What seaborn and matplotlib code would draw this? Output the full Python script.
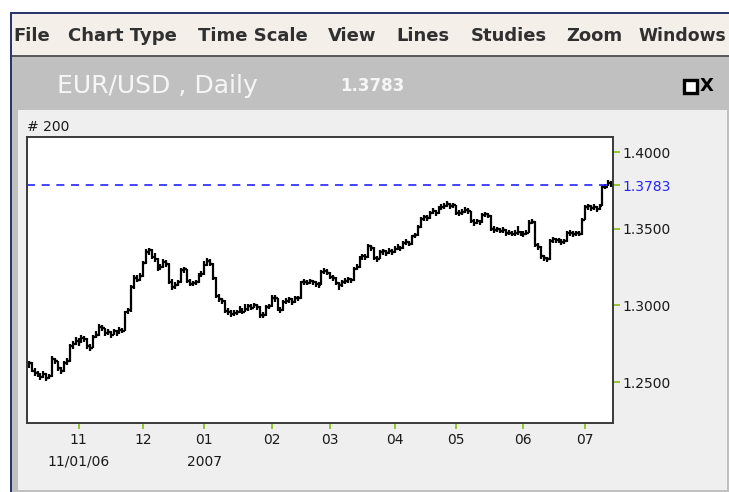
"""EUR/USD daily bar chart, styled like an old trading terminal window."""

import matplotlib

matplotlib.use("Agg")
import matplotlib.pyplot as plt
import numpy as np
import pandas as pd
import seaborn as sns
from matplotlib.patches import Rectangle

W, H = 729, 492

START_DATE = "2006-10-09"
LAST_PRICE = 1.3783
Y_TICKS = [1.25, 1.30, 1.35, 1.40]
MENU_ITEMS = ["File", "Chart Type", "Time Scale", "View", "Lines", "Studies", "Zoom", "Windows"]
MENU_X = [13, 68, 198, 328, 396, 471, 566, 638]
SECOND_ROW = {11: "11/01/06", 1: "2007"}

CLOSE = [
    1.2622, 1.2575, 1.2560, 1.2548, 1.2535, 1.2552, 1.2528, 1.2540, 1.2648, 1.2635,
    1.2590, 1.2572, 1.2625, 1.2640, 1.2735, 1.2748, 1.2770, 1.2760, 1.2790, 1.2782,
    1.2735, 1.2725, 1.2795, 1.2805, 1.2860, 1.2850, 1.2818, 1.2828, 1.2810, 1.2830,
    1.2822, 1.2840, 1.2835, 1.2955, 1.2968, 1.3120, 1.3180, 1.3165, 1.3190, 1.3275,
    1.3345, 1.3360, 1.3318, 1.3305, 1.3240, 1.3250, 1.3285, 1.3270, 1.3155, 1.3120,
    1.3135, 1.3150, 1.3228, 1.3235, 1.3160, 1.3140, 1.3145, 1.3150, 1.3195, 1.3205,
    1.3265, 1.3290, 1.3270, 1.3180, 1.3060, 1.3040, 1.3030, 1.2965, 1.2960, 1.2945,
    1.2950, 1.2955, 1.2970, 1.2960, 1.2975, 1.2995, 1.2985, 1.3000, 1.2990, 1.2940,
    1.2935, 1.2990, 1.2995, 1.3050, 1.3045, 1.2975, 1.2968, 1.3025, 1.3030, 1.3040,
    1.3022, 1.3050, 1.3045, 1.3150, 1.3155, 1.3148, 1.3160, 1.3150, 1.3140, 1.3135,
    1.3215, 1.3225, 1.3210, 1.3185, 1.3180, 1.3145, 1.3130, 1.3150, 1.3160, 1.3170,
    1.3165, 1.3240, 1.3250, 1.3310, 1.3320, 1.3315, 1.3385, 1.3375, 1.3310, 1.3305,
    1.3345, 1.3352, 1.3340, 1.3355, 1.3348, 1.3370, 1.3380, 1.3372, 1.3405, 1.3415,
    1.3400, 1.3450, 1.3458, 1.3510, 1.3565, 1.3575, 1.3570, 1.3605, 1.3615, 1.3600,
    1.3635, 1.3640, 1.3650, 1.3660, 1.3645, 1.3652, 1.3605, 1.3600, 1.3612, 1.3620,
    1.3615, 1.3550, 1.3540, 1.3548, 1.3542, 1.3590, 1.3595, 1.3585, 1.3500, 1.3490,
    1.3495, 1.3488, 1.3492, 1.3470, 1.3475, 1.3468, 1.3472, 1.3478, 1.3470, 1.3465,
    1.3475, 1.3540, 1.3545, 1.3395, 1.3380, 1.3320, 1.3310, 1.3300, 1.3420, 1.3430,
    1.3425, 1.3428, 1.3412, 1.3418, 1.3470, 1.3475, 1.3465, 1.3472, 1.3468, 1.3560,
    1.3640, 1.3645, 1.3635, 1.3640, 1.3630, 1.3650, 1.3770, 1.3775, 1.3800, 1.3783,
]

HIGH = [
    1.2640, 1.2630, 1.2590, 1.2572, 1.2560, 1.2570, 1.2562, 1.2555, 1.2668, 1.2660,
    1.2640, 1.2600, 1.2638, 1.2655, 1.2748, 1.2770, 1.2792, 1.2785, 1.2808, 1.2800,
    1.2790, 1.2750, 1.2810, 1.2830, 1.2880, 1.2872, 1.2855, 1.2845, 1.2835, 1.2848,
    1.2840, 1.2858, 1.2850, 1.2965, 1.2985, 1.3130, 1.3195, 1.3200, 1.3210, 1.3290,
    1.3365, 1.3372, 1.3368, 1.3340, 1.3310, 1.3268, 1.3300, 1.3295, 1.3275, 1.3170,
    1.3150, 1.3165, 1.3245, 1.3250, 1.3240, 1.3170, 1.3160, 1.3168, 1.3210, 1.3222,
    1.3290, 1.3310, 1.3305, 1.3275, 1.3185, 1.3075, 1.3050, 1.3035, 1.2985, 1.2970,
    1.2968, 1.2972, 1.2995, 1.2985, 1.3010, 1.3008, 1.3012, 1.3018, 1.3010, 1.2995,
    1.2958, 1.3002, 1.3010, 1.3065, 1.3068, 1.3050, 1.2990, 1.3038, 1.3048, 1.3055,
    1.3045, 1.3062, 1.3060, 1.3162, 1.3170, 1.3165, 1.3175, 1.3168, 1.3158, 1.3150,
    1.3228, 1.3245, 1.3235, 1.3215, 1.3198, 1.3185, 1.3155, 1.3165, 1.3178, 1.3185,
    1.3180, 1.3252, 1.3268, 1.3322, 1.3338, 1.3332, 1.3398, 1.3395, 1.3380, 1.3325,
    1.3358, 1.3368, 1.3360, 1.3372, 1.3365, 1.3385, 1.3398, 1.3390, 1.3420, 1.3435,
    1.3422, 1.3462, 1.3475, 1.3522, 1.3578, 1.3592, 1.3588, 1.3618, 1.3632, 1.3622,
    1.3648, 1.3658, 1.3668, 1.3680, 1.3668, 1.3665, 1.3655, 1.3620, 1.3628, 1.3640,
    1.3632, 1.3618, 1.3565, 1.3562, 1.3560, 1.3605, 1.3612, 1.3602, 1.3590, 1.3515,
    1.3510, 1.3505, 1.3508, 1.3495, 1.3492, 1.3485, 1.3490, 1.3520, 1.3488, 1.3482,
    1.3492, 1.3555, 1.3562, 1.3550, 1.3405, 1.3385, 1.3330, 1.3318, 1.3432, 1.3445,
    1.3440, 1.3442, 1.3432, 1.3435, 1.3485, 1.3490, 1.3485, 1.3488, 1.3485, 1.3572,
    1.3655, 1.3662, 1.3655, 1.3658, 1.3650, 1.3662, 1.3782, 1.3792, 1.3815, 1.3808,
]

LOW = [
    1.2590, 1.2565, 1.2540, 1.2530, 1.2515, 1.2528, 1.2505, 1.2520, 1.2535, 1.2615,
    1.2575, 1.2550, 1.2565, 1.2612, 1.2630, 1.2715, 1.2740, 1.2738, 1.2755, 1.2760,
    1.2715, 1.2705, 1.2720, 1.2785, 1.2800, 1.2830, 1.2800, 1.2805, 1.2790, 1.2805,
    1.2800, 1.2815, 1.2818, 1.2830, 1.2945, 1.2960, 1.3110, 1.3150, 1.3160, 1.3185,
    1.3270, 1.3330, 1.3300, 1.3285, 1.3225, 1.3228, 1.3245, 1.3250, 1.3140, 1.3100,
    1.3110, 1.3125, 1.3145, 1.3210, 1.3145, 1.3125, 1.3128, 1.3132, 1.3145, 1.3185,
    1.3200, 1.3260, 1.3255, 1.3165, 1.3045, 1.3025, 1.3010, 1.2950, 1.2940, 1.2925,
    1.2932, 1.2935, 1.2948, 1.2945, 1.2955, 1.2965, 1.2968, 1.2980, 1.2972, 1.2920,
    1.2915, 1.2930, 1.2978, 1.2990, 1.3025, 1.2962, 1.2950, 1.2965, 1.3012, 1.3018,
    1.3005, 1.3018, 1.3030, 1.3040, 1.3135, 1.3130, 1.3140, 1.3135, 1.3120, 1.3112,
    1.3130, 1.3205, 1.3195, 1.3170, 1.3160, 1.3130, 1.3100, 1.3122, 1.3140, 1.3148,
    1.3145, 1.3160, 1.3230, 1.3245, 1.3298, 1.3295, 1.3310, 1.3355, 1.3295, 1.3285,
    1.3300, 1.3330, 1.3322, 1.3335, 1.3330, 1.3342, 1.3360, 1.3352, 1.3368, 1.3395,
    1.3385, 1.3395, 1.3438, 1.3450, 1.3505, 1.3550, 1.3552, 1.3565, 1.3595, 1.3582,
    1.3598, 1.3620, 1.3630, 1.3640, 1.3628, 1.3632, 1.3590, 1.3580, 1.3592, 1.3600,
    1.3598, 1.3535, 1.3520, 1.3528, 1.3525, 1.3538, 1.3578, 1.3568, 1.3488, 1.3472,
    1.3478, 1.3470, 1.3475, 1.3452, 1.3458, 1.3450, 1.3455, 1.3460, 1.3452, 1.3448,
    1.3458, 1.3470, 1.3528, 1.3380, 1.3362, 1.3305, 1.3292, 1.3280, 1.3295, 1.3410,
    1.3405, 1.3410, 1.3395, 1.3400, 1.3412, 1.3455, 1.3448, 1.3455, 1.3450, 1.3462,
    1.3555, 1.3625, 1.3618, 1.3620, 1.3612, 1.3625, 1.3645, 1.3758, 1.3780, 1.3775,
]

MENU_BG = "#F4EFE9"
FRAME_GRAY = "#C0C0C0"
PANEL_BG = "#EFEFEF"
BORDER_NAVY = "#2B3570"
TICK_GREEN = "#8DC21F"
LINE_BLUE = "#2424FF"


def fig_rect(fig, x0, y0, x1, y1, color, z=0):
    """Rectangle given in screen pixels (origin top-left)."""
    fig.patches.append(
        Rectangle(
            (x0 / W, 1 - y1 / H),
            (x1 - x0) / W,
            (y1 - y0) / H,
            transform=fig.transFigure,
            facecolor=color,
            edgecolor="none",
            zorder=z,
        )
    )


def fig_text(fig, x, y, s, **kw):
    fig.text(x / W, 1 - y / H, s, **kw)


def draw_window(fig):
    fig_rect(fig, 10, 12, W, H, FRAME_GRAY)
    fig_rect(fig, 10, 12, W, 55, MENU_BG)
    fig_rect(fig, 10, 55, W, 57, "#5A5A5A")
    fig_rect(fig, 18, 110, 727, 490, PANEL_BG)
    fig_rect(fig, 10, 12, W, 14, BORDER_NAVY)
    fig_rect(fig, 10, 12, 12, H, BORDER_NAVY)

    for label, x in zip(MENU_ITEMS, MENU_X):
        size = 12.4 if label == "Windows" else 13
        fig_text(fig, x, 36, label, fontsize=size, fontweight="bold",
                 color="#303030", va="center", ha="left")

    fig_text(fig, 57, 86, "EUR/USD , Daily", fontsize=18, color="#F6F6F6",
             va="center", ha="left")
    fig_text(fig, 340, 86, f"{LAST_PRICE:.4f}", fontsize=12, fontweight="bold",
             color="#F6F6F6", va="center", ha="left")

    # minimise / close buttons
    fig.patches.append(
        Rectangle((684 / W, 1 - 93 / H), 13 / W, 13 / H, transform=fig.transFigure,
                  facecolor="white", edgecolor="black", linewidth=2.4, zorder=2)
    )
    fig_text(fig, 700, 86, "X", fontsize=13, fontweight="bold", color="black",
             va="center", ha="left")


def main():
    sns.set_theme(style="white")
    plt.rcParams["font.family"] = ["DejaVu Sans"]

    dates = pd.bdate_range(START_DATE, periods=len(CLOSE))
    idx = np.arange(len(CLOSE))
    close = np.array(CLOSE)
    opens = np.r_[close[0], close[:-1]]

    fig = plt.figure(figsize=(W / 100, H / 100), dpi=100)
    fig.patch.set_facecolor("white")
    draw_window(fig)

    ax = fig.add_axes([27 / W, 1 - 423 / H, 586 / W, 286 / H])
    ax.set_facecolor("white")
    ax.set_zorder(3)

    bar_kw = dict(color="black", linewidth=1.6)
    ax.vlines(idx, LOW, HIGH, **bar_kw)
    ax.hlines(opens, idx - 0.6, idx, **bar_kw)
    ax.hlines(close, idx, idx + 0.6, **bar_kw)

    ax.axhline(LAST_PRICE, color=LINE_BLUE, linewidth=1.2, dashes=(4.8, 4.0))

    ax.set_xlim(-0.6, len(CLOSE) - 0.4)
    ax.set_ylim(1.2233, 1.4098)

    # month ticks at the first trading day of each month
    month = dates.month
    starts = [i for i in range(1, len(dates)) if month[i] != month[i - 1]]
    labels = []
    for i in starts:
        m = dates[i].month
        lab = f"{m:02d}"
        if m in SECOND_ROW:
            lab += "\n" + SECOND_ROW[m]
        labels.append(lab)
    ax.set_xticks(starts)
    ax.set_xticklabels(labels, fontsize=10, color="#1A1A1A")
    for t in ax.get_xticklabels():
        t.set_linespacing(1.75)
        t.set_verticalalignment("top")

    ax.yaxis.tick_right()
    yt = sorted(Y_TICKS + [LAST_PRICE])
    ax.set_yticks(yt)
    ax.set_yticklabels([f"{v:.4f}" for v in yt], fontsize=10, color="#1A1A1A")
    for t, v in zip(ax.get_yticklabels(), yt):
        if v == LAST_PRICE:
            t.set_color(LINE_BLUE)

    ax.tick_params(axis="x", bottom=True, length=4, width=1.3, color=TICK_GREEN, pad=3)
    ax.tick_params(axis="y", right=True, left=False, length=5, width=1.3,
                   color=TICK_GREEN, pad=2)
    for sp in ax.spines.values():
        sp.set_visible(True)
        sp.set_color("#3A3A3A")
        sp.set_linewidth(1.4)
    ax.grid(False)

    ax.text(0, 1.012, "# 200", transform=ax.transAxes, fontsize=10,
            color="#1A1A1A", va="bottom", ha="left")

    fig.savefig("out.png", dpi=100, facecolor=fig.get_facecolor())
    plt.close(fig)


if __name__ == "__main__":
    main()
